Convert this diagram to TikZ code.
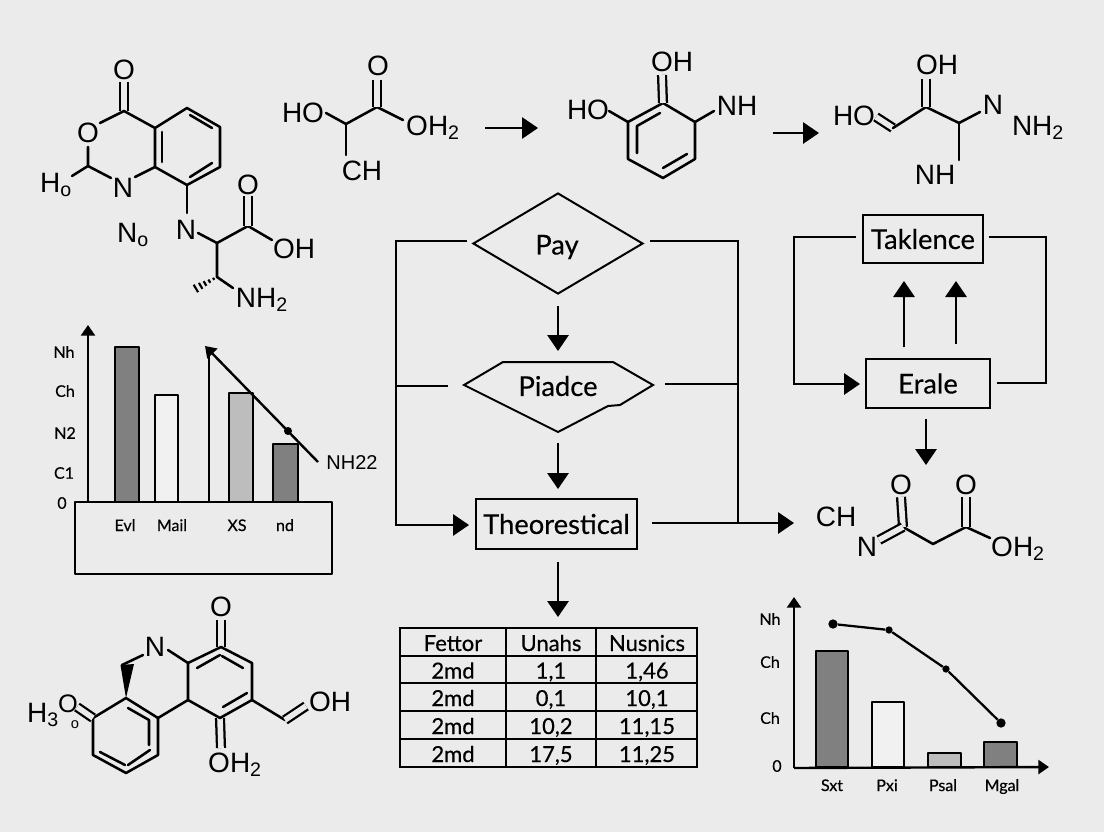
\documentclass[tikz,border=0pt]{standalone}
\usepackage{fontspec}
\setmainfont{Lato}
\newfontfamily\chemf{Liberation Sans}
\newfontfamily\labf[FakeBold=0.4]{Lato}
\usetikzlibrary{arrows.meta,shapes.geometric,calc}
\definecolor{bgc}{HTML}{EBEBEB}
\definecolor{darkbar}{HTML}{808080}
\definecolor{midbar}{HTML}{BDBDBD}
\definecolor{palebar}{HTML}{F1F1F1}
\newcommand{\sbs}[1]{\textsubscript{#1}}
\tikzset{
  bond/.style={line width=1.9pt,line join=round,line cap=round},
  dblbond/.style={line width=1.7pt,double=bgc,double distance=4.2pt},
  chem/.style={font=\chemf\fontsize{21}{21}\selectfont,inner sep=0pt},
  flow/.style={line width=1.5pt,line join=miter},
  arr/.style={flow,-{Triangle[length=12pt,width=16pt]}},
  smallarr/.style={line width=1.8pt,-{Triangle[length=8pt,width=10.5pt]}},
  ftext/.style={font=\labf\fontsize{20.5}{21}\selectfont,inner sep=0pt},
  fbox/.style={draw,line width=1.5pt,inner sep=0pt,font=\labf\fontsize{20.5}{21}\selectfont},
  axlab/.style={font=\labf\fontsize{12}{12}\selectfont,inner sep=0pt},
  xlab/.style={axlab,anchor=base},
  cell/.style={font=\labf\fontsize{16.5}{16}\selectfont,inner sep=0pt,anchor=base},
  barbox/.style={line width=1.7pt,line join=round},
  dot/.style={circle,fill=black,inner sep=0pt,minimum size=#1}
}
\begin{document}
\begin{tikzpicture}[x=0.75pt,y=-0.75pt]
\path[use as bounding box,fill=bgc] (0,0) rectangle (1104,832);

% ---------- molecule 1
\node[chem] (m1o1) at (124,70) {O};
\node[chem] (m1o2) at (88,133) {O};
\node[chem] (m1n1) at (123,188) {N};
\node[chem] (m1h) at (56,185) {H\sbs{o}};
\node[chem] (m1no) at (133,235) {N\sbs{o}};
\node[chem] (m1n2) at (186,230) {N};
\node[chem] (m1o3) at (248,185) {O};
\node[chem] (m1oh) at (294,249) {OH};
\node[chem] (m1nh) at (262,300) {NH\sbs{2}};
\foreach \n/\p in {a/{124,111},b/{155,128},c/{187,108},d/{220,127},e/{220,167},f/{187,185},g/{155,167},
  o1e/{100,123},o2e/{88,147},h/{88,166},he/{72,176},n1r/{135,177},n1l/{111,178},
  n2t/{187,213},n2r/{198,233},i/{217,243},j/{248,226},oh/{272,240},k/{217,277},nhs/{233,288},
  o1s/{124,82},o3s/{248,196},
  ia/{162,132},ib/{162,162},ic/{190,115},id/{212,128},ie/{190,177},if/{212,163}}
  {\coordinate (m1\n) at (\p);}
\draw[dblbond] (m1a) -- (m1o1s);
\draw[bond] (m1o1e) -- (m1a) -- (m1b) -- (m1c) -- (m1d) -- (m1e) -- (m1f) -- (m1g) -- (m1b);
\draw[bond] (m1g) -- (m1n1r);
\draw[bond] (m1n1l) -- (m1h) -- (m1o2e);
\draw[bond] (m1h) -- (m1he);
\draw[bond] (m1ia) -- (m1ib);
\draw[bond] (m1ic) -- (m1id);
\draw[bond] (m1ie) -- (m1if);
\draw[bond] (m1f) -- (m1n2t);
\draw[bond] (m1n2r) -- (m1i) -- (m1j) -- (m1oh);
\draw[dblbond] (m1j) -- (m1o3s);
\draw[bond] (m1i) -- (m1k) -- (m1nhs);
\foreach \t/\w in {0.14/1.2,0.32/1.9,0.5/2.7,0.68/3.5,0.88/4.4}
  \draw[line width=1.6pt] ($(m1k)!\t!(193,290)$) ++(-\w*0.5,-\w*0.85) -- ++(\w,\w*1.7);

% ---------- molecule 2
\node[chem] (m2ho) at (303,113) {HO};
\node[chem] (m2o) at (378,66) {O};
\node[chem] (m2oh) at (433,128) {OH\sbs{2}};
\node[chem] (m2ch) at (362,171) {CH};
\foreach \n/\p in {a/{326,113},b/{346,124},c/{377,107},d/{377,80},e/{403,120},f/{346,155}}
  {\coordinate (m2\n) at (\p);}
\draw[bond] (m2a) -- (m2b) -- (m2c) -- (m2e);
\draw[dblbond] (m2c) -- (m2d);
\draw[bond] (m2b) -- (m2f);
\coordinate (ar1s) at (485,128); \coordinate (ar1e) at (538,128);
\draw[arr] (ar1s) -- (ar1e);

% ---------- molecule 3
\node[chem] (m3ho) at (588,110) {HO};
\node[chem] (m3oh) at (672,62) {OH};
\node[chem] (m3nh) at (737,106) {NH};
\foreach \n/\p in {a/{628,122},b/{663,103},c/{695,122},d/{695,159},e/{663,178},f/{628,159},
  g/{609,111},h/{662,75},i/{714,111},ia/{637,153},ib/{637,126},ic/{660,113},id/{663,168},ie/{687,154}}
  {\coordinate (m3\n) at (\p);}
\draw[bond] (m3g) -- (m3a) -- (m3b) -- (m3c) -- (m3d) -- (m3e) -- (m3f) -- (m3a);
\draw[bond] (m3c) -- (m3i);
\draw[dblbond] (m3b) -- (m3h);
\draw[bond] (m3ia) -- (m3ib) -- (m3ic);
\draw[bond] (m3id) -- (m3ie);
\coordinate (ar2s) at (773,133); \coordinate (ar2e) at (819,133);
\draw[arr] (ar2s) -- (ar2e);

% ---------- molecule 4
\node[chem] (m4ho) at (854,116) {HO};
\node[chem] (m4oh) at (937,65) {OH};
\node[chem] (m4n) at (993,105) {N};
\node[chem] (m4nh2) at (1038,128) {NH\sbs{2}};
\node[chem] (m4nh) at (935,175) {NH};
\foreach \n/\p in {a/{876,117},b/{893,128},c/{926,107},d/{926,79},e/{959,123},f/{980,112},g/{959,160}}
  {\coordinate (m4\n) at (\p);}
\draw[dblbond,line cap=butt] (m4a) -- (m4b);
\draw[bond] (m4b) -- (m4c) -- (m4e) -- (m4f);
\draw[dblbond] (m4c) -- (m4d);
\draw[bond] (m4e) -- (m4g);

% ---------- left bar chart
\node[axlab] (l1) at (64,352) {Nh};
\node[axlab] (l2) at (65,391) {Ch};
\node[axlab] (l3) at (65,433) {N2};
\node[axlab] (l4) at (64,473) {C1};
\node[axlab] (l5) at (62,503) {0};
\draw[barbox,fill=darkbar] (115,502) rectangle (139,347);
\draw[barbox,fill=palebar] (155,502) rectangle (178,395);
\draw[barbox,fill=midbar] (229,502) rectangle (253,393);
\draw[barbox,fill=darkbar] (273,502) rectangle (298,444);
\draw[barbox] (75,502) rectangle (332,574);
\coordinate (ax1s) at (88,502); \coordinate (ax1e) at (88,325);
\draw[smallarr] (ax1s) -- (ax1e);
\coordinate (ax2s) at (209,502); \coordinate (ax2e) at (209,352);
\draw[line width=1.8pt] (ax2s) -- (ax2e);
\node[chem,font=\chemf\fontsize{15}{15}\selectfont] (nh22) at (352,463) {NH22};
\coordinate (dg1) at (318,462); \coordinate (dg2) at (205,346);
\draw[smallarr] (dg1) -- (dg2);
\node[dot=6pt] (dgd) at (288,431) {};
\node[xlab] (x1) at (125,531) {Evl};
\node[xlab] (x2) at (172,531) {Mail};
\node[xlab] (x3) at (237,531) {XS};
\node[xlab] (x4) at (285,531) {nd};

% ---------- bottom molecule
\node[chem] (m5o) at (221,607) {O};
\node[chem] (m5n) at (155,647) {N};
\node[chem] (m5oh) at (330,702) {OH};
\node[chem] (m5oh2) at (235,765) {OH\sbs{2}};
\node[chem] (m5h3) at (43,715) {H\sbs{3}};
\node[chem,font=\chemf\fontsize{19}{19}\selectfont] (m5o2) at (68,704) {O};
\node[chem,font=\chemf\fontsize{11}{11}\selectfont] (m5o3) at (75,725) {o};
\foreach \n/\p in {a/{221,647},b/{252,663},c/{252,700},d/{220,718},e/{188,700},f/{188,663},
  g/{168,650},h/{143,655},i/{122,665},j/{126,698},k/{158,718},l/{158,755},m/{126,773},n/{93,755},o/{93,718},
  p/{221,620},q/{221,748},r/{285,720},s/{306,706},t/{77,707},w/{134,664},
  ia/{197,668},ib/{220,655},ic/{222,656},id/{243,668},ie/{223,707},if/{247,693},
  ja/{128,708},jb/{149,720},jc/{149,745},jd/{100,752},je/{125,765},jf/{128,765},jg/{150,750}}
  {\coordinate (m5\n) at (\p);}
\draw[dblbond] (m5a) -- (m5p);
\draw[dblbond] (m5d) -- (m5q);
\draw[bond] (m5a) -- (m5b) -- (m5c) -- (m5d) -- (m5e) -- (m5f) -- (m5a);
\draw[bond] (m5g) -- (m5f);
\draw[bond] (m5e) -- (m5k) -- (m5l) -- (m5m) -- (m5n) -- (m5o) -- (m5j) -- (m5k);
\draw[bond] (m5h) -- (m5i);
\fill (m5i) ++(-1.5,0) -- (m5w) -- (m5j) -- cycle;
\draw[bond] (m5ia) -- (m5ib);
\draw[bond] (m5ic) -- (m5id);
\draw[bond] (m5ie) -- (m5if);
\draw[bond] (m5ja) -- (m5jb) -- (m5jc);
\draw[bond] (m5jd) -- (m5je);
\draw[bond] (m5jf) -- (m5jg);
\draw[dblbond] (m5o) -- (m5t);
\draw[bond] (m5c) -- (m5r);
\draw[dblbond] (m5r) -- (m5s);

% ---------- central flow
\node[diamond,draw,line width=1.5pt,inner sep=0pt,minimum width=127.5pt,minimum height=75.75pt] (pay) at (558,243.5) {};
\node[ftext] (paytext) at (557,247) {Pay};
\foreach \n/\p in {a/{464,385},b/{503,362},c/{613,362},d/{653,385},e/{620,405},f/{608,406},g/{558,432},h/{502,404}}
  {\coordinate (pd\n) at (\p);}
\draw[flow] (pda) -- (pdb) -- (pdc) -- (pdd) -- (pde) -- (pdf) -- (pdg) -- (pdh) -- cycle;
\node[ftext] (piadce) at (558,386) {Piadce};
\node[fbox,minimum width=120.75pt,minimum height=37.5pt] (theo) at (556.5,524) {Theorestical};
\foreach \n/\p in {a/{558,306},b/{558,351},c/{558,443},d/{558,489},e/{558,562},f/{558,617}}
  {\coordinate (fl\n) at (\p);}
\draw[arr] (fla) -- (flb);
\draw[arr] (flc) -- (fld);
\draw[arr] (fle) -- (flf);
\foreach \n/\p in {a/{467,241},b/{396,241},c/{396,525},d/{469,525},e/{448,386},f/{396,386},
  g/{650,241},h/{738,241},i/{738,523},j/{665,384},k/{738,384},l/{652,523},m/{794,523}}
  {\coordinate (fr\n) at (\p);}
\draw[arr] (fra) -- (frb) -- (frc) -- (frd);
\draw[flow] (fre) -- (frf);
\draw[flow] (frg) -- (frh) -- (fri);
\draw[flow] (frj) -- (frk);
\draw[arr] (frl) -- (frm);

% ---------- table
\draw[line width=1.7pt] (400,628) rectangle (697,767);
\foreach \y in {656,683,711,739} \draw[line width=1.7pt] (400,\y) -- (697,\y);
\foreach \x in {506,596} \draw[line width=1.7pt] (\x,628) -- (\x,767);
\node[cell] (t11) at (453,651) {Fettor};
\node[cell] (t12) at (551,651) {Unahs};
\node[cell] (t13) at (647,651) {Nusnics};
\node[cell] (t21) at (453,678.5) {2md};
\node[cell] (t22) at (551,678.5) {1,1};
\node[cell] (t23) at (647,678.5) {1,46};
\node[cell] (t31) at (453,706) {2md};
\node[cell] (t32) at (551,706) {0,1};
\node[cell] (t33) at (647,706) {10,1};
\node[cell] (t41) at (453,734) {2md};
\node[cell] (t42) at (551,734) {10,2};
\node[cell] (t43) at (647,734) {11,15};
\node[cell] (t51) at (453,762) {2md};
\node[cell] (t52) at (551,762) {17,5};
\node[cell] (t53) at (647,762) {11,25};

% ---------- right flow
\node[fbox,minimum width=90pt,minimum height=36pt] (tak) at (923,239) {Taklence};
\node[fbox,minimum width=93pt,minimum height=36.75pt] (era) at (928,383.5) {Erale};
\foreach \n/\p in {a/{856,237},b/{794,237},c/{794,384},d/{860,384},e/{989,237},f/{1046,237},g/{1046,383},h/{997,383},
  i/{904,347},j/{904,281},k/{956,344},l/{956,281},m/{926,419},n/{926,465}}
  {\coordinate (rf\n) at (\p);}
\draw[arr] (rfa) -- (rfb) -- (rfc) -- (rfd);
\draw[flow] (rfe) -- (rff) -- (rfg) -- (rfh);
\draw[arr] (rfi) -- (rfj);
\draw[arr] (rfk) -- (rfl);
\draw[arr] (rfm) -- (rfn);

% ---------- molecule 6
\node[chem] (m6ch) at (836,517) {CH};
\node[chem] (m6o1) at (901,485) {O};
\node[chem] (m6o2) at (966,485) {O};
\node[chem] (m6n) at (867,547) {N};
\node[chem] (m6oh) at (1018,549) {OH\sbs{2}};
\foreach \n/\p in {a/{903,527},b/{933,544},c/{966,527},d/{990,538},e/{901,497},f/{966,497},g/{879,540}}
  {\coordinate (m6\n) at (\p);}
\draw[bond] (m6a) -- (m6b) -- (m6c) -- (m6d);
\draw[dblbond] (m6a) -- (m6e);
\draw[dblbond] (m6c) -- (m6f);
\draw[dblbond] (m6a) -- (m6g);

% ---------- right chart
\draw[barbox,fill=darkbar] (816,767) rectangle (848,651);
\draw[barbox,fill=palebar] (872,767) rectangle (904,702);
\draw[barbox,fill=midbar] (928,767) rectangle (961,753);
\draw[barbox,fill=darkbar] (984,767) rectangle (1017,742);
\coordinate (cy0) at (794,768); \coordinate (cy1) at (794,597); \coordinate (cx1) at (1049,767);
\draw[smallarr] (cy0) -- (cy1);
\draw[smallarr] (cy0) -- (cx1);
\node[axlab] (r1) at (770,619) {Nh};
\node[axlab] (r2) at (770,662) {Ch};
\node[axlab] (r3) at (770,718) {Ch};
\node[axlab] (r4) at (777,766) {0};
\node[dot=7pt] (d1) at (833,624) {};
\node[dot=5.5pt] (d2) at (889,630) {};
\node[dot=5.5pt] (d3) at (946,669) {};
\node[dot=7pt] (d4) at (1001,723) {};
\draw[line width=1.7pt] (d1) -- (d2) -- (d3) -- (d4);
\node[xlab] (s1) at (832,791) {Sxt};
\node[xlab] (s2) at (887,791) {Pxi};
\node[xlab] (s3) at (943,791) {Psal};
\node[xlab] (s4) at (1002,791) {Mgal};
\end{tikzpicture}
\end{document}
